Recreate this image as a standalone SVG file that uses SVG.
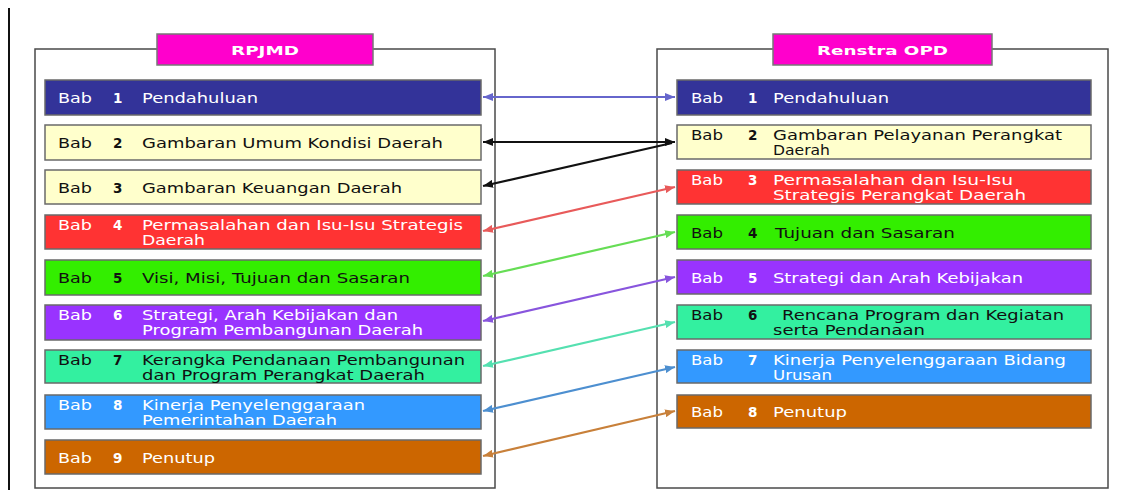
<svg xmlns="http://www.w3.org/2000/svg" width="1130" height="490" viewBox="0 0 1130 490">
<style>
.t{font-family:"DejaVu Sans","Verdana",sans-serif;font-size:13.5px}
.w{fill:#ffffff}
.k{fill:#111111}
.n{font-weight:bold}
.row{stroke:#6a6a6a;stroke-width:1.5}
.outer{fill:#ffffff;stroke:#4a4a4a;stroke-width:1.5}
.hdr{fill:#ff00cc;stroke:#777;stroke-width:1.5}
.ht{font-family:"DejaVu Sans","Verdana",sans-serif;font-size:12px;font-weight:bold;fill:#ffffff}
.c{fill:none;stroke-width:2.2}
</style>
<defs>
<marker id="m1" markerUnits="userSpaceOnUse" markerWidth="10" markerHeight="8" refX="10" refY="4" orient="auto-start-reverse"><path d="M0,0 L10,4 L0,8 z" fill="#6666cc"/></marker>
<marker id="m2" markerUnits="userSpaceOnUse" markerWidth="10" markerHeight="8" refX="10" refY="4" orient="auto-start-reverse"><path d="M0,0 L10,4 L0,8 z" fill="#111111"/></marker>
<marker id="m4" markerUnits="userSpaceOnUse" markerWidth="10" markerHeight="8" refX="10" refY="4" orient="auto-start-reverse"><path d="M0,0 L10,4 L0,8 z" fill="#e85a5a"/></marker>
<marker id="m5" markerUnits="userSpaceOnUse" markerWidth="10" markerHeight="8" refX="10" refY="4" orient="auto-start-reverse"><path d="M0,0 L10,4 L0,8 z" fill="#66dd55"/></marker>
<marker id="m6" markerUnits="userSpaceOnUse" markerWidth="10" markerHeight="8" refX="10" refY="4" orient="auto-start-reverse"><path d="M0,0 L10,4 L0,8 z" fill="#8855dd"/></marker>
<marker id="m7" markerUnits="userSpaceOnUse" markerWidth="10" markerHeight="8" refX="10" refY="4" orient="auto-start-reverse"><path d="M0,0 L10,4 L0,8 z" fill="#55e0b0"/></marker>
<marker id="m8" markerUnits="userSpaceOnUse" markerWidth="10" markerHeight="8" refX="10" refY="4" orient="auto-start-reverse"><path d="M0,0 L10,4 L0,8 z" fill="#4d8fd0"/></marker>
<marker id="m9" markerUnits="userSpaceOnUse" markerWidth="10" markerHeight="8" refX="10" refY="4" orient="auto-start-reverse"><path d="M0,0 L10,4 L0,8 z" fill="#c8803a"/></marker>
</defs>
<rect width="1130" height="490" fill="#ffffff"/>
<line x1="9" y1="8" x2="9" y2="490" stroke="#111" stroke-width="2"/>

<g id="rpjmd-frame">
<rect class="outer" x="35" y="49" width="460" height="439"/>
<rect class="hdr" x="157" y="34" width="216" height="31"/>
<text class="ht" x="231" y="55" textLength="68" lengthAdjust="spacingAndGlyphs">RPJMD</text>
</g>
<g id="renstra-frame">
<rect class="outer" x="657" y="49" width="451" height="439"/>
<rect class="hdr" x="773" y="34" width="219" height="31"/>
<text class="ht" x="817" y="55" textLength="131" lengthAdjust="spacingAndGlyphs">Renstra OPD</text>
</g>

<g id="L1"><rect class="row" x="45" y="80" width="436" height="35" fill="#333399"/><text class="t w" x="58" y="103" textLength="34" lengthAdjust="spacingAndGlyphs">Bab</text><text class="t w n" x="113" y="103">1</text><text class="t w" x="142" y="103" textLength="116" lengthAdjust="spacingAndGlyphs">Pendahuluan</text></g>
<g id="L2"><rect class="row" x="45" y="125" width="436" height="35" fill="#ffffcc"/><text class="t k" x="58" y="148" textLength="34" lengthAdjust="spacingAndGlyphs">Bab</text><text class="t k n" x="113" y="148">2</text><text class="t k" x="142" y="148" textLength="301" lengthAdjust="spacingAndGlyphs">Gambaran Umum Kondisi Daerah</text></g>
<g id="L3"><rect class="row" x="45" y="170" width="436" height="34" fill="#ffffcc"/><text class="t k" x="58" y="193" textLength="34" lengthAdjust="spacingAndGlyphs">Bab</text><text class="t k n" x="113" y="193">3</text><text class="t k" x="142" y="193" textLength="260" lengthAdjust="spacingAndGlyphs">Gambaran Keuangan Daerah</text></g>
<g id="L4"><rect class="row" x="45" y="215" width="436" height="34" fill="#ff3333"/><text class="t w" x="58" y="230" textLength="34" lengthAdjust="spacingAndGlyphs">Bab</text><text class="t w n" x="113" y="230">4</text><text class="t w" x="142" y="230" textLength="321" lengthAdjust="spacingAndGlyphs">Permasalahan dan Isu-Isu Strategis</text><text class="t w" x="142" y="245" textLength="63" lengthAdjust="spacingAndGlyphs">Daerah</text></g>
<g id="L5"><rect class="row" x="45" y="260" width="436" height="35" fill="#33ee00"/><text class="t k" x="58" y="283" textLength="34" lengthAdjust="spacingAndGlyphs">Bab</text><text class="t k n" x="113" y="283">5</text><text class="t k" x="142" y="283" textLength="268" lengthAdjust="spacingAndGlyphs">Visi, Misi, Tujuan dan Sasaran</text></g>
<g id="L6"><rect class="row" x="45" y="305" width="436" height="35" fill="#9933ff"/><text class="t w" x="58" y="320" textLength="34" lengthAdjust="spacingAndGlyphs">Bab</text><text class="t w n" x="113" y="320">6</text><text class="t w" x="142" y="320" textLength="256" lengthAdjust="spacingAndGlyphs">Strategi, Arah Kebijakan dan</text><text class="t w" x="142" y="335" textLength="281" lengthAdjust="spacingAndGlyphs">Program Pembangunan Daerah</text></g>
<g id="L7"><rect class="row" x="45" y="350" width="436" height="33" fill="#33f0a0"/><text class="t k" x="58" y="365" textLength="34" lengthAdjust="spacingAndGlyphs">Bab</text><text class="t k n" x="113" y="365">7</text><text class="t k" x="142" y="365" textLength="323" lengthAdjust="spacingAndGlyphs">Kerangka Pendanaan Pembangunan</text><text class="t k" x="142" y="380" textLength="283" lengthAdjust="spacingAndGlyphs">dan Program Perangkat Daerah</text></g>
<g id="L8"><rect class="row" x="45" y="395" width="436" height="34" fill="#3399ff"/><text class="t w" x="58" y="410" textLength="34" lengthAdjust="spacingAndGlyphs">Bab</text><text class="t w n" x="113" y="410">8</text><text class="t w" x="142" y="410" textLength="223" lengthAdjust="spacingAndGlyphs">Kinerja Penyelenggaraan</text><text class="t w" x="142" y="425" textLength="195" lengthAdjust="spacingAndGlyphs">Pemerintahan Daerah</text></g>
<g id="L9"><rect class="row" x="45" y="440" width="436" height="34" fill="#cc6600"/><text class="t w" x="58" y="463" textLength="34" lengthAdjust="spacingAndGlyphs">Bab</text><text class="t w n" x="113" y="463">9</text><text class="t w" x="142" y="463" textLength="73" lengthAdjust="spacingAndGlyphs">Penutup</text></g>

<g id="R1"><rect class="row" x="677" y="80" width="414" height="35" fill="#333399"/><text class="t w" x="691" y="103" textLength="32" lengthAdjust="spacingAndGlyphs">Bab</text><text class="t w n" x="748" y="103">1</text><text class="t w" x="773" y="103" textLength="116" lengthAdjust="spacingAndGlyphs">Pendahuluan</text></g>
<g id="R2"><rect class="row" x="677" y="125" width="414" height="34" fill="#ffffcc"/><text class="t k" x="691" y="140" textLength="32" lengthAdjust="spacingAndGlyphs">Bab</text><text class="t k n" x="748" y="140">2</text><text class="t k" x="773" y="140" textLength="289" lengthAdjust="spacingAndGlyphs">Gambaran Pelayanan Perangkat</text><text class="t k" x="773" y="155" textLength="57" lengthAdjust="spacingAndGlyphs">Daerah</text></g>
<g id="R3"><rect class="row" x="677" y="170" width="414" height="34" fill="#ff3333"/><text class="t w" x="691" y="185" textLength="32" lengthAdjust="spacingAndGlyphs">Bab</text><text class="t w n" x="748" y="185">3</text><text class="t w" x="773" y="185" textLength="240" lengthAdjust="spacingAndGlyphs">Permasalahan dan Isu-Isu</text><text class="t w" x="773" y="200" textLength="253" lengthAdjust="spacingAndGlyphs">Strategis  Perangkat Daerah</text></g>
<g id="R4"><rect class="row" x="677" y="215" width="414" height="34" fill="#33ee00"/><text class="t k" x="691" y="238" textLength="32" lengthAdjust="spacingAndGlyphs">Bab</text><text class="t k n" x="748" y="238">4</text><text class="t k" x="775" y="238" textLength="180" lengthAdjust="spacingAndGlyphs">Tujuan dan Sasaran</text></g>
<g id="R5"><rect class="row" x="677" y="260" width="414" height="34" fill="#9933ff"/><text class="t w" x="691" y="283" textLength="32" lengthAdjust="spacingAndGlyphs">Bab</text><text class="t w n" x="748" y="283">5</text><text class="t w" x="773" y="283" textLength="250" lengthAdjust="spacingAndGlyphs">Strategi dan Arah Kebijakan</text></g>
<g id="R6"><rect class="row" x="677" y="305" width="414" height="34" fill="#33f0a0"/><text class="t k" x="691" y="320" textLength="32" lengthAdjust="spacingAndGlyphs">Bab</text><text class="t k n" x="748" y="320">6</text><text class="t k" x="782" y="320" textLength="282" lengthAdjust="spacingAndGlyphs">Rencana Program dan Kegiatan</text><text class="t k" x="773" y="335" textLength="152" lengthAdjust="spacingAndGlyphs">serta Pendanaan</text></g>
<g id="R7"><rect class="row" x="677" y="350" width="414" height="33" fill="#3399ff"/><text class="t w" x="691" y="365" textLength="32" lengthAdjust="spacingAndGlyphs">Bab</text><text class="t w n" x="748" y="365">7</text><text class="t w" x="773" y="365" textLength="293" lengthAdjust="spacingAndGlyphs">Kinerja Penyelenggaraan Bidang</text><text class="t w" x="773" y="380" textLength="59" lengthAdjust="spacingAndGlyphs">Urusan</text></g>
<g id="R8"><rect class="row" x="677" y="395" width="414" height="33" fill="#cc6600"/><text class="t w" x="691" y="417" textLength="32" lengthAdjust="spacingAndGlyphs">Bab</text><text class="t w n" x="748" y="417">8</text><text class="t w" x="773" y="417" textLength="74" lengthAdjust="spacingAndGlyphs">Penutup</text></g>

<g id="connectors">
<line class="c" x1="483" y1="97" x2="675" y2="97" stroke="#6666cc" marker-start="url(#m1)" marker-end="url(#m1)"/>
<line class="c" x1="483" y1="142" x2="675" y2="142" stroke="#111111" stroke-width="2.6" marker-start="url(#m2)" marker-end="url(#m2)"/>
<line class="c" x1="483" y1="186" x2="672" y2="143" stroke="#111111" stroke-width="2.6" marker-start="url(#m2)"/>
<line class="c" x1="483" y1="231" x2="675" y2="187" stroke="#e85a5a" marker-start="url(#m4)" marker-end="url(#m4)"/>
<line class="c" x1="483" y1="276" x2="675" y2="232" stroke="#66dd55" marker-start="url(#m5)" marker-end="url(#m5)"/>
<line class="c" x1="483" y1="321" x2="675" y2="277" stroke="#8855dd" marker-start="url(#m6)" marker-end="url(#m6)"/>
<line class="c" x1="483" y1="366" x2="675" y2="322" stroke="#55e0b0" marker-start="url(#m7)" marker-end="url(#m7)"/>
<line class="c" x1="483" y1="411" x2="675" y2="367" stroke="#4d8fd0" marker-start="url(#m8)" marker-end="url(#m8)"/>
<line class="c" x1="483" y1="456" x2="675" y2="411" stroke="#c8803a" marker-start="url(#m9)" marker-end="url(#m9)"/>
</g>
</svg>
